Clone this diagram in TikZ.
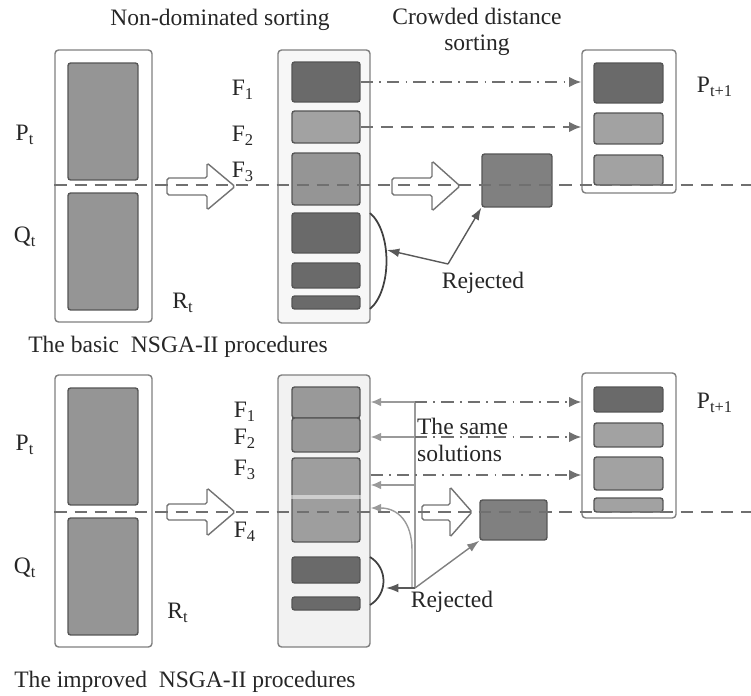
\documentclass[tikz,border=0pt]{standalone}
\usepackage{fontspec}
\setmainfont{Liberation Serif}
\usetikzlibrary{arrows.meta, positioning}

\definecolor{darkfill}{HTML}{6A6A6A}
\definecolor{lightfill}{HTML}{A2A2A2}
\definecolor{midfill}{HTML}{959595}
\definecolor{edgegray}{HTML}{555555}
\definecolor{linegray}{HTML}{707070}
\definecolor{guidegray}{HTML}{9A9A9A}

\tikzset{
  frame/.style={draw=black!50, line width=0.8pt, rounded corners=2pt,
                fill=white, inner sep=0pt},
  slot/.style={draw=edgegray, line width=0.8pt, rounded corners=1.5pt,
               inner sep=0pt, minimum width=1.36cm},
  dark slot/.style={slot, fill=darkfill},
  light slot/.style={slot, fill=lightfill},
  mid slot/.style={slot, fill=midfill},
  txt/.style={font=\fontsize{13.4}{15}\selectfont, inner sep=1pt, text=black!85},
  cut line/.style={draw=linegray, line width=1.1pt, dash pattern=on 7pt off 4.5pt},
  dashdot arrow/.style={draw=linegray, line width=1.1pt,
                        dash pattern=on 7pt off 3.5pt on 1pt off 3.5pt,
                        -{Latex[length=7pt,width=6pt]}},
  dash arrow/.style={draw=linegray, line width=1.1pt,
                     dash pattern=on 7pt off 4.5pt,
                     -{Latex[length=7pt,width=6pt]}},
  rej arrow/.style={draw=black!65, line width=0.8pt, -{Latex[length=7pt,width=5pt]}},
  guide/.style={draw=guidegray, line width=0.8pt},
  guide arrow/.style={guide, -{Latex[length=6pt,width=5pt]}},
  bracket/.style={draw=black!75, line width=1pt},
  block arrow/.style={draw=black!55, line width=0.8pt, fill=white, rounded corners=1pt}
}

\begin{document}
\begin{tikzpicture}[x=0.02cm, y=-0.02cm]
  \useasboundingbox (0,0) rectangle (751,696);

  % titles
  \node[txt] (title1) at (220,20) {Non-dominated sorting};
  \node[txt, align=center] (title2) at (477,32) {Crowded distance\\sorting};

  % ---------- the basic procedure ----------
  \node[frame, minimum width=1.94cm, minimum height=5.44cm] (RtA) at (103.5,186) {};
  \node[mid slot, minimum width=1.4cm, minimum height=2.34cm] (PtA) at (103,121.5) {};
  \node[mid slot, minimum width=1.4cm, minimum height=2.34cm] (QtA) at (103,251.5) {};

  \node[frame, fill=black!3, minimum width=1.84cm, minimum height=5.46cm] (SortA) at (324,186.5) {};
  \node[dark slot, minimum height=0.8cm] (F1A) at (326,82) {};
  \node[light slot, minimum height=0.64cm] (F2A) at (326,127) {};
  \node[mid slot, minimum height=1.04cm] (F3A) at (326,179) {};
  \node[dark slot, minimum height=0.8cm] (restA1) at (326,233) {};
  \node[dark slot, minimum height=0.5cm] (restA2) at (326,275.5) {};
  \node[dark slot, minimum height=0.26cm] (restA3) at (326,302.5) {};

  \node[frame, minimum width=1.88cm, minimum height=2.86cm] (NextA) at (629,121.5) {};
  \node[dark slot, minimum width=1.38cm, minimum height=0.8cm] (NextA1) at (628.5,83) {};
  \node[light slot, minimum width=1.38cm, minimum height=0.62cm] (NextA2) at (628.5,128.5) {};
  \node[light slot, minimum width=1.38cm, minimum height=0.6cm] (NextA3) at (628.5,170) {};

  \node[slot, fill=black!50, minimum width=1.4cm, minimum height=1.06cm] (SelA) at (517,180.5) {};

  % labels
  \node[txt] (PtAlab) at (25,135) {P\textsubscript{t}};
  \node[txt] (QtAlab) at (25,237) {Q\textsubscript{t}};
  \node[txt] (RtAlab) at (183,303) {R\textsubscript{t}};
  \node[txt] (F1Alab) at (243,90) {F\textsubscript{1}};
  \node[txt] (F2Alab) at (243,136) {F\textsubscript{2}};
  \node[txt] (F3Alab) at (243,172) {F\textsubscript{3}};
  \node[txt] (NextAlab) at (715,87) {P\textsubscript{t+1}};
  \node[txt] (rejAlab) at (483,283) {Rejected};
  \node[txt] (basic) at (178,347) {The basic\ \ NSGA-II procedures};

  % block arrows
  \draw[block arrow] (167,178) -- (207,178) -- (207,163) -- (235,186.5)
    -- (207,210) -- (207,195) -- (167,195) -- cycle;
  \draw[block arrow] (392,178) -- (432,178) -- (432,161) -- (460,186)
    -- (432,211) -- (432,195) -- (392,195) -- cycle;

  % connectors
  \draw[dashdot arrow] (F1A.east) -- (F1A.east -| NextA.west);
  \draw[dash arrow] (F2A.east) -- (F2A.east -| NextA.west);

  \coordinate (brAtop) at (370,213);
  \coordinate (brAbot) at (370,309);
  \coordinate (brA) at (387,250);
  \coordinate (rejA) at (448,264);
  \draw[bracket] (brAtop) .. controls (392,232) and (392,290) .. (brAbot);
  \draw[rej arrow] (rejA) -- (brA);
  \draw[rej arrow] (rejA) -- (SelA.south west);

  \draw[cut line] (RtA.west |- 0,185) -- (751,185);

  % ---------- the improved procedure ----------
  \node[frame, minimum width=1.94cm, minimum height=5.44cm] (RtB) at (103.5,511) {};
  \node[mid slot, minimum width=1.4cm, minimum height=2.34cm] (PtB) at (103,446.5) {};
  \node[mid slot, minimum width=1.4cm, minimum height=2.34cm] (QtB) at (103,576.5) {};

  \node[frame, fill=black!5, minimum width=1.84cm, minimum height=5.44cm] (SortB) at (324,511) {};
  \node[light slot, fill=black!40, minimum height=0.62cm] (F1B) at (326,402.5) {};
  \node[light slot, fill=black!40, minimum height=0.68cm] (F2B) at (326,435) {};
  \node[light slot, fill=black!38, minimum height=1.68cm] (F34B) at (326,500) {};
  \draw[white, opacity=0.5, line width=2.5pt] (F34B.west |- 0,497) -- (F34B.east |- 0,497);
  \node[dark slot, minimum height=0.52cm] (restB1) at (326,570) {};
  \node[dark slot, minimum height=0.26cm] (restB2) at (326,603.5) {};

  \node[frame, minimum width=1.88cm, minimum height=2.9cm] (NextB) at (629,445.5) {};
  \node[dark slot, minimum width=1.38cm, minimum height=0.5cm] (NextB1) at (628.5,399.5) {};
  \node[light slot, minimum width=1.38cm, minimum height=0.48cm] (NextB2) at (628.5,435) {};
  \node[light slot, minimum width=1.38cm, minimum height=0.66cm] (NextB3) at (628.5,473.5) {};
  \node[light slot, minimum width=1.38cm, minimum height=0.28cm] (NextB4) at (628.5,505) {};

  \node[slot, fill=black!50, minimum width=1.34cm, minimum height=0.8cm] (SelB) at (513.5,520) {};

  % labels
  \node[txt] (PtBlab) at (25,445) {P\textsubscript{t}};
  \node[txt] (QtBlab) at (25,568) {Q\textsubscript{t}};
  \node[txt] (RtBlab) at (178,613) {R\textsubscript{t}};
  \node[txt] (F1Blab) at (245,412) {F\textsubscript{1}};
  \node[txt] (F2Blab) at (245,439) {F\textsubscript{2}};
  \node[txt] (F3Blab) at (245,470) {F\textsubscript{3}};
  \node[txt] (F4Blab) at (245,532) {F\textsubscript{4}};
  \node[txt] (NextBlab) at (715,403) {P\textsubscript{t+1}};
  \node[txt, align=left, anchor=west] (same) at (415,440) {The same\\solutions};
  \node[txt] (rejBlab) at (452,602) {Rejected};
  \node[txt] (improved) at (185,682) {The improved\ \ NSGA-II procedures};

  % block arrows
  \draw[block arrow] (167,504) -- (207,504) -- (207,488) -- (235,512)
    -- (207,536) -- (207,520) -- (167,520) -- cycle;
  \draw[block arrow] (422,505) -- (450,505) -- (450,487) -- (472,512)
    -- (450,537) -- (450,520) -- (422,520) -- cycle;

  % the same solutions
  \coordinate (vtop) at (415,402);
  \coordinate (v2) at (415,437);
  \coordinate (v3) at (415,485);
  \coordinate (v4) at (415,475);
  \coordinate (vbot) at (415,588);
  \coordinate (vcurve) at (412,588);
  \draw[guide] (vtop) -- (vbot);
  \draw[guide arrow] (vtop) -- (vtop -| SortB.east);
  \draw[guide arrow] (v2) -- (v2 -| SortB.east);
  \draw[guide arrow] (v3) -- (v3 -| SortB.east);
  \draw[guide arrow] (vcurve) -- (412,550) .. controls (412,522) and (398,508) .. (SortB.east |- 0,508);

  \draw[dashdot arrow] (vtop) -- (vtop -| NextB.west);
  \draw[dashdot arrow] (v2) -- (v2 -| NextB.west);
  \draw[dashdot arrow] (v4 -| SortB.east) -- (v4 -| NextB.west);

  \coordinate (brBtop) at (370,557);
  \coordinate (brBbot) at (370,605);
  \coordinate (brB) at (386,588);
  \draw[bracket] (brBtop) .. controls (388,568) and (388,594) .. (brBbot);
  \draw[rej arrow] (vbot) -- (brB);
  \draw[rej arrow, draw=black!50] (vbot) -- (SelB.south west);

  \draw[cut line] (RtB.west |- 0,512) -- (751,512);
\end{tikzpicture}
\end{document}
